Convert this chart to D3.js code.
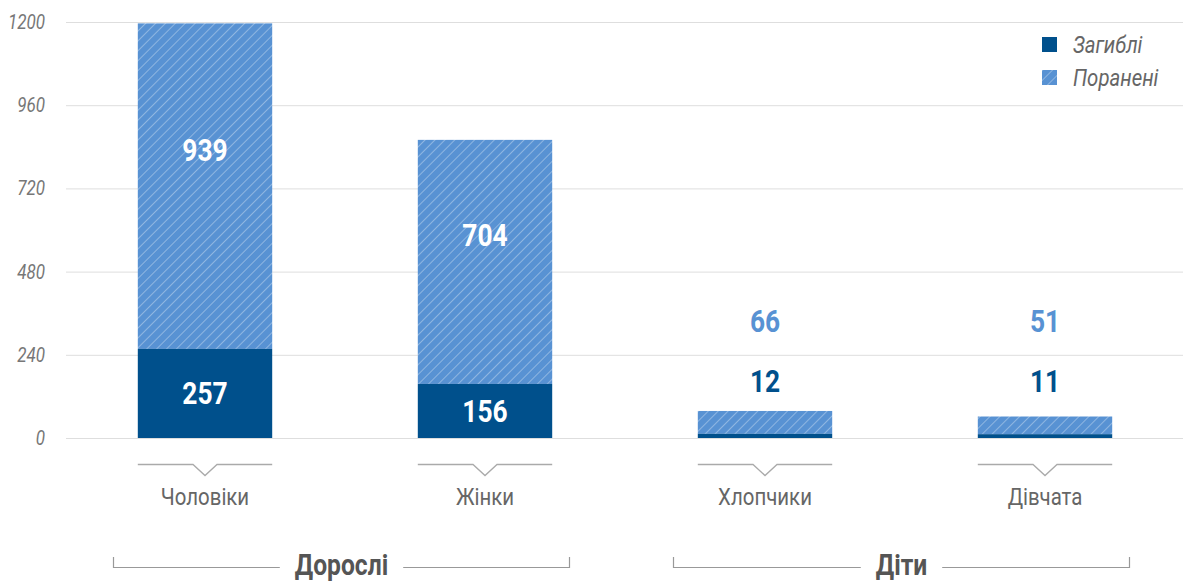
<!DOCTYPE html>
<html>
<head>
<meta charset="utf-8">
<script src="https://cdn.jsdelivr.net/npm/d3@7"></script>
<style>
  body { margin: 0; background: #fff; }
  text { font-family: "Roboto", "Liberation Sans", sans-serif; }
</style>
</head>
<body>
<div id="chart"></div>
<script>
// chart data
const categories = ["Чоловіки", "Жінки", "Хлопчики", "Дівчата"];
const killed = [257, 156, 12, 11];
const wounded = [939, 704, 66, 51];
const groupNames = ["Дорослі", "Діти"];
const groupOf = [0, 0, 1, 1];
const yTicks = [0, 240, 480, 720, 960, 1200];
const legendNames = ["Загиблі", "Поранені"];

const W = 1183, H = 582;
const dark = "#00508c", light = "#5892d3";
const cond = 0.85; // fake condensed font

const svg = d3.select("#chart").append("svg")
  .attr("width", W).attr("height", H);

// hatch pattern for wounded
const defs = svg.append("defs");
const pat = defs.append("pattern")
  .attr("id", "hatch")
  .attr("patternUnits", "userSpaceOnUse")
  .attr("width", 7).attr("height", 7)
  .attr("patternTransform", "rotate(45)");
pat.append("rect").attr("width", 7).attr("height", 7).attr("fill", light);
pat.append("line")
  .attr("x1", 0).attr("y1", 0).attr("x2", 0).attr("y2", 7)
  .attr("stroke", "#fff").attr("stroke-opacity", 0.55).attr("stroke-width", 1.2);

const x = d3.scaleBand().domain(categories).range([65, 1185]).paddingInner(0.52).paddingOuter(0.26);
const y = d3.scaleLinear().domain([0, 1200]).range([438, 22]);

function ctext(sel, px, py) {
  return sel.attr("transform", `translate(${px},${py}) scale(${cond},1)`);
}

// grid
svg.append("g").selectAll("line").data(yTicks).join("line")
  .attr("x1", 66).attr("x2", W)
  .attr("y1", d => y(d) + 0.5).attr("y2", d => y(d) + 0.5)
  .attr("stroke", "#dedede").attr("stroke-width", 1);

svg.append("g").selectAll("text").data(yTicks).join("text")
  .each(function(d) { ctext(d3.select(this), 45, y(d) + 7); })
  .attr("text-anchor", "end")
  .attr("font-size", 20).attr("font-style", "italic").attr("fill", "#777")
  .text(d => d);

// bars
const bars = svg.append("g").selectAll("g").data(categories).join("g");
bars.append("rect")
  .attr("x", d => x(d)).attr("width", x.bandwidth())
  .attr("y", (d, i) => y(killed[i] + wounded[i]))
  .attr("height", (d, i) => y(killed[i]) - y(killed[i] + wounded[i]))
  .attr("fill", "url(#hatch)");
bars.append("rect")
  .attr("x", d => x(d)).attr("width", x.bandwidth())
  .attr("y", (d, i) => y(killed[i]))
  .attr("height", (d, i) => y(0) - y(killed[i]))
  .attr("fill", dark);

// value labels
bars.each(function(d, i) {
  const g = d3.select(this);
  const cx = x(d) + x.bandwidth() / 2;
  const inside = y(0) - y(wounded[i]) > 60;
  if (inside) {
    ctext(g.append("text"), cx, y(killed[i] + wounded[i] * 0.61) + 11)
      .attr("text-anchor", "middle").attr("font-size", 31).attr("font-weight", "bold")
      .attr("fill", "#fff").text(wounded[i]);
    ctext(g.append("text"), cx, y(killed[i] / 2) + 11)
      .attr("text-anchor", "middle").attr("font-size", 31).attr("font-weight", "bold")
      .attr("fill", "#fff").text(killed[i]);
  } else {
    ctext(g.append("text"), cx, y(0) - 106)
      .attr("text-anchor", "middle").attr("font-size", 31).attr("font-weight", "bold")
      .attr("fill", light).text(wounded[i]);
    ctext(g.append("text"), cx, y(0) - 46)
      .attr("text-anchor", "middle").attr("font-size", 31).attr("font-weight", "bold")
      .attr("fill", dark).text(killed[i]);
  }
});

// category brackets + labels
const cat = svg.append("g").selectAll("g").data(categories).join("g");
cat.append("path")
  .attr("d", d => {
    const x0 = x(d), x1 = x(d) + x.bandwidth(), c = (x0 + x1) / 2;
    return `M${x0},464.5H${c - 12}L${c},475.5L${c + 12},464.5H${x1}`;
  })
  .attr("fill", "none").attr("stroke", "#aaa").attr("stroke-width", 1.3);
cat.append("text")
  .each(function(d) { ctext(d3.select(this), x(d) + x.bandwidth() / 2, 505); })
  .attr("text-anchor", "middle").attr("font-size", 24).attr("fill", "#666")
  .text(d => d);

// group brackets
groupNames.forEach((name, gi) => {
  const members = categories.filter((c, i) => groupOf[i] === gi);
  const step = x.step();
  const x0 = x(members[0]) - step * x.paddingInner() / 2 + 48;
  const x1 = x(members[members.length - 1]) + x.bandwidth() + step * x.paddingInner() / 2 - 55;
  const cx = (x0 + x1) / 2;
  const g = svg.append("g");
  const t = ctext(g.append("text"), cx, 575)
    .attr("text-anchor", "middle").attr("font-size", 29).attr("font-weight", "bold")
    .attr("fill", "#555").text(name);
  const tw = t.node().getComputedTextLength() * cond;
  const gap = 15;
  g.append("path")
    .attr("d", `M${x0 + 0.5},557V567.5H${cx - tw / 2 - gap}M${cx + tw / 2 + gap},567.5H${x1 - 0.5}V557`)
    .attr("fill", "none").attr("stroke", "#999").attr("stroke-width", 1.2);
});

// legend
const leg = svg.append("g").selectAll("g").data(legendNames).join("g")
  .attr("transform", (d, i) => `translate(1042,${37 + i * 33})`);
leg.append("rect").attr("width", 15).attr("height", 15)
  .attr("fill", (d, i) => i === 0 ? dark : "url(#hatch)");
leg.append("text")
  .each(function() { ctext(d3.select(this), 31, 16); })
  .attr("font-size", 24).attr("font-style", "italic").attr("fill", "#666")
  .text(d => d);
</script>
</body>
</html>
